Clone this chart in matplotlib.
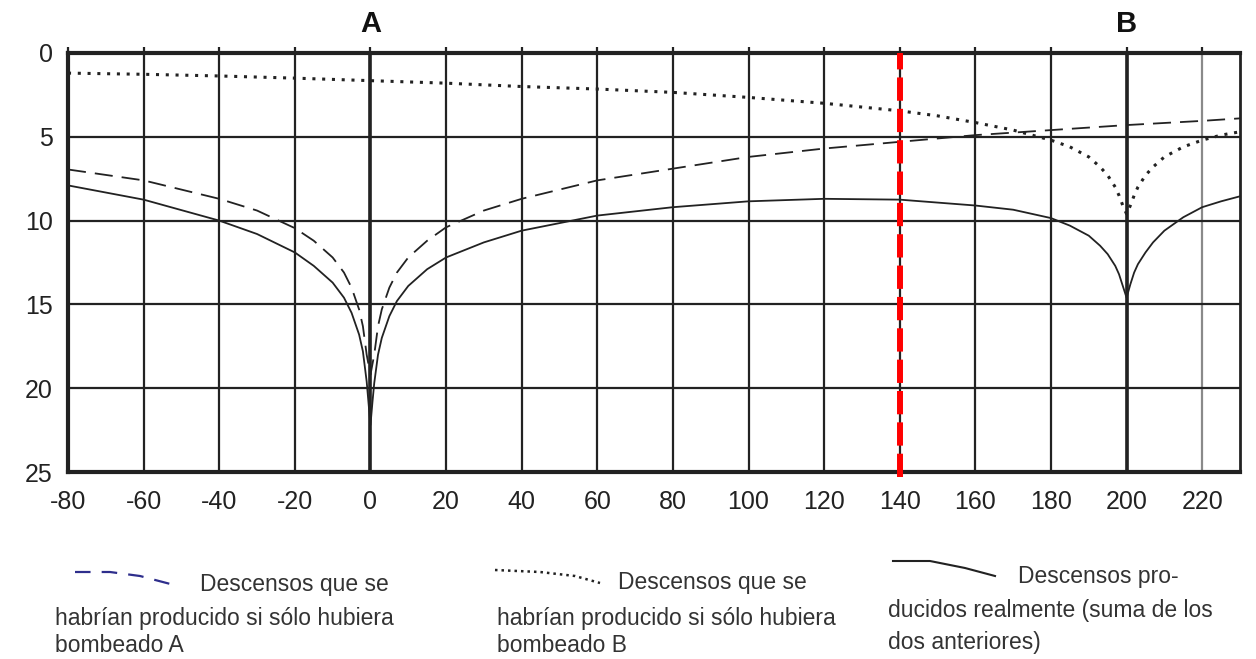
import matplotlib
import matplotlib.pyplot as plt
from matplotlib.lines import Line2D

matplotlib.use("Agg")

plt.rcParams["font.family"] = ["Liberation Sans", "DejaVu Sans"]
plt.rcParams["axes.unicode_minus"] = False

# distance along the section (m) and drawdown (m)
x_a = [-80, -60, -40, -30, -20, -15, -10, -7, -5, -3, -2, -1, 0,
       1, 2, 3, 5, 7, 10, 15, 20, 30, 40, 60, 80, 100, 120, 140, 160, 180, 200, 220, 230]
s_a = [6.95, 7.6, 8.7, 9.4, 10.45, 11.2, 12.2, 13.1, 14.0, 15.3, 16.3, 18.0, 19.2,
       18.0, 16.3, 15.3, 14.0, 13.1, 12.2, 11.2, 10.4, 9.4, 8.7, 7.6, 6.9, 6.2, 5.7, 5.3, 4.9, 4.6, 4.3, 4.05, 3.9]

x_b = [-80, -60, -40, -20, 0, 20, 40, 60, 80, 100, 120, 140, 150, 160, 170, 180, 185, 190, 193,
       195, 197, 198, 199, 200, 201, 202, 203, 205, 207, 210, 215, 220, 225, 230]
s_b = [1.2, 1.27, 1.37, 1.5, 1.65, 1.8, 2.0, 2.15, 2.35, 2.65, 3.0, 3.45, 3.75, 4.15, 4.6, 5.2, 5.6, 6.2, 6.8,
       7.3, 8.0, 8.5, 9.1, 9.6, 9.1, 8.5, 8.0, 7.3, 6.8, 6.2, 5.6, 5.2, 4.9, 4.7]

x_sum = [-80, -60, -40, -30, -20, -15, -10, -7, -5, -3, -2, -1, -0.5, 0, 0.5, 1, 2, 3, 5, 7, 10, 15, 20,
         30, 40, 60, 80, 100, 120, 140, 160, 170, 180, 185, 190, 193, 195, 197, 198, 199, 200,
         201, 202, 203, 205, 207, 210, 215, 220, 225, 230]
s_sum = [7.9, 8.75, 10.0, 10.8, 11.9, 12.7, 13.7, 14.6, 15.5, 16.8, 17.8, 19.6, 20.9, 22.2, 20.9, 19.7, 18.0,
         17.0, 15.7, 14.8, 13.9, 12.9, 12.2, 11.3, 10.6, 9.7, 9.2, 8.85, 8.7, 8.75, 9.1, 9.35, 9.85, 10.3,
         10.9, 11.5, 12.0, 12.7, 13.2, 13.9, 14.6, 13.8, 13.1, 12.6, 11.9, 11.3, 10.6, 9.8, 9.2, 8.85, 8.55]

wells_x = [0, 200]
wells_label = ["A", "B"]
section_x = 140
x_ticks = list(range(-80, 221, 20))
y_ticks = [0, 5, 10, 15, 20, 25]

legend_text = [
    ["Descensos que se", "habrían producido si sólo hubiera", "bombeado A"],
    ["Descensos que se", "habrían producido si sólo hubiera", "bombeado B"],
    ["Descensos pro-", "ducidos realmente (suma de los", "dos anteriores)"],
]

W, H = 1256, 659
INK = "#222222"


def px(x, y):
    return x / W, 1 - y / H


fig = plt.figure(figsize=(W / 100, H / 100), dpi=100)
ax = fig.add_axes([68 / W, 1 - 472 / H, (1240 - 68) / W, (472 - 53) / H])
ax.set_xlim(-80, 230)
ax.set_ylim(25, 0)

ax.set_xticks(x_ticks)
ax.set_yticks(y_ticks)
ax.grid(True, color=INK, linewidth=1.6, zorder=1)
ax.set_axisbelow(True)
for tick, line in zip(x_ticks, ax.get_xgridlines()):
    if tick == 220:
        line.set_color("#8a8a8a")
for wx, label in zip(wells_x, wells_label):
    ax.axvline(wx, color=INK, linewidth=2.6, zorder=1.5)
    ax.text(wx, 1.035, label, transform=ax.get_xaxis_transform(), ha="center", va="bottom",
            fontsize=21, fontweight="bold", color="#111111")

ax.tick_params(axis="y", length=0, pad=11, labelsize=18, labelcolor=INK)
ax.tick_params(axis="x", bottom=False, top=True, direction="out", length=4, width=1.6,
               color=INK, pad=9, labelsize=18, labelcolor=INK)
for side, lw in [("top", 3.0), ("bottom", 3.0), ("left", 3.0), ("right", 2.0)]:
    ax.spines[side].set_linewidth(lw)
    ax.spines[side].set_color(INK)

ax.plot(x_a, s_a, color=INK, linewidth=1.3, dashes=(10, 5), zorder=3)
ax.plot(x_b, s_b, color=INK, linewidth=2.2, dashes=(1, 2.2), zorder=3)
ax.plot(x_sum, s_sum, color=INK, linewidth=1.3, zorder=3)

red = ax.axvline(section_x, ymin=-0.012, ymax=1, color="#ff0000", linewidth=4.3, zorder=4,
                 dashes=(3.9, 1.35), clip_on=False)
red.set_dash_capstyle("butt")

# legend drawn below the axes, as in the original
samples = [
    ([75, 110, 140, 178], [572, 572, 576, 586], dict(color="#2e2e8c", linewidth=1.6, dashes=(7, 5))),
    ([495, 540, 575, 600], [570, 572, 576, 583], dict(color=INK, linewidth=1.8, dashes=(1, 1.6))),
    ([893, 930, 965, 995], [561, 561, 568, 576], dict(color=INK, linewidth=1.5)),
]
for xs, ys, style in samples:
    pts = [px(x, y) for x, y in zip(xs, ys)]
    fig.add_artist(Line2D([p[0] for p in pts], [p[1] for p in pts], transform=fig.transFigure, **style))

text_pos = [
    [(200, 585), (55, 619), (55, 646)],
    [(618, 583), (497, 619), (497, 646)],
    [(1018, 576), (888, 610), (888, 642)],
]
for lines, positions in zip(legend_text, text_pos):
    for line, (x, y) in zip(lines, positions):
        fx, fy = px(x, y)
        fig.text(fx, fy, line, ha="left", va="center", fontsize=16.5, color="#333333")

fig.savefig("out.png", dpi=100)
plt.close(fig)
